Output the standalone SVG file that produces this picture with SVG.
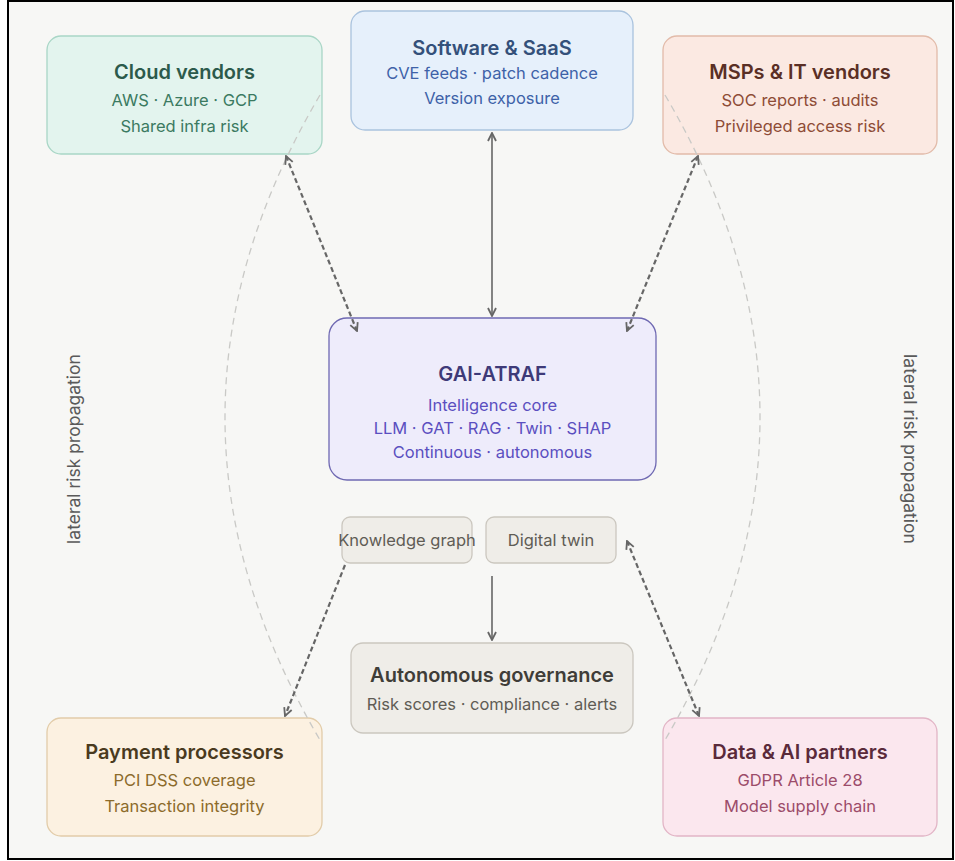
<svg xmlns="http://www.w3.org/2000/svg" width="955" height="861" viewBox="0 0 955 861">
<style>
text{font-family:Inter,"Open Sans","Liberation Sans",sans-serif;text-anchor:middle}
.t{font-size:20px;font-weight:600}
.s{font-size:16.5px}
.box{stroke-width:1.3}
.dk{fill:none;stroke:#666;stroke-width:2.2;stroke-dasharray:5 3}
.sol{fill:none;stroke:#666;stroke-width:1.6}
.lat{fill:none;stroke:#c9c9c6;stroke-width:1.3;stroke-dasharray:7 5}
.lbl{font-size:17.5px;fill:#5a5a5a}
</style>
<defs>
<marker id="ah" viewBox="0 0 10 10" refX="9" refY="5" markerWidth="10" markerHeight="10" markerUnits="userSpaceOnUse" orient="auto-start-reverse">
<path d="M1,1 L9,5 L1,9" fill="none" stroke="#666" stroke-width="1.8"/>
</marker>
</defs>
<rect x="0" y="0" width="955" height="861" fill="#ffffff"/>
<rect x="8" y="1" width="945" height="858" fill="#f7f7f5" stroke="#000" stroke-width="2"/>

<g id="cloud">
<rect class="box" x="47" y="36" width="275" height="118" rx="14" fill="#e3f4ee" stroke="#a9d6c6"/>
<text class="t" x="184.5" y="79" fill="#2c5a4b">Cloud vendors</text>
<text class="s" x="184.5" y="106" fill="#3b7a61">AWS · Azure · GCP</text>
<text class="s" x="184.5" y="132" fill="#3b7a61">Shared infra risk</text>
</g>
<g id="software">
<rect class="box" x="351" y="11" width="282" height="119" rx="14" fill="#e6f0fb" stroke="#aac3de"/>
<text class="t" x="492" y="55" fill="#34507a">Software &amp; SaaS</text>
<text class="s" x="492" y="79" fill="#3e62a8">CVE feeds · patch cadence</text>
<text class="s" x="492" y="104" fill="#3e62a8">Version exposure</text>
</g>
<g id="msps">
<rect class="box" x="663" y="36" width="274" height="118" rx="14" fill="#fbe9e2" stroke="#e2bba9"/>
<text class="t" x="800" y="79" fill="#5a2f25">MSPs &amp; IT vendors</text>
<text class="s" x="800" y="106" fill="#8e4c36">SOC reports · audits</text>
<text class="s" x="800" y="132" fill="#8e4c36">Privileged access risk</text>
</g>
<g id="core">
<rect class="box" x="329" y="318" width="327" height="162" rx="18" fill="#eeecfb" stroke="#6f69b2"/>
<text class="t" x="492.5" y="381" fill="#3e3a78">GAI-ATRAF</text>
<text class="s" x="492.5" y="411" fill="#5b4fc0">Intelligence core</text>
<text class="s" x="492.5" y="434" fill="#5b4fc0">LLM · GAT · RAG · Twin · SHAP</text>
<text class="s" x="492.5" y="458" fill="#5b4fc0">Continuous · autonomous</text>
</g>
<g id="kg">
<rect class="box" x="342" y="517" width="130" height="46" rx="8" fill="#efede8" stroke="#cbc7bf"/>
<text class="s" x="407" y="546" fill="#5f5c55">Knowledge graph</text>
</g>
<g id="twin">
<rect class="box" x="486" y="517" width="130" height="46" rx="8" fill="#efede8" stroke="#cbc7bf"/>
<text class="s" x="551" y="546" fill="#5f5c55">Digital twin</text>
</g>
<g id="governance">
<rect class="box" x="351" y="643" width="282" height="90" rx="12" fill="#efede8" stroke="#cbc7bf"/>
<text class="t" x="492" y="682" fill="#3f3d38">Autonomous governance</text>
<text class="s" x="492" y="710" fill="#5f5c55">Risk scores · compliance · alerts</text>
</g>
<g id="payment">
<rect class="box" x="47" y="718" width="275" height="118" rx="14" fill="#fcf1e1" stroke="#e2cca9"/>
<text class="t" x="184.5" y="759" fill="#4a3a1e">Payment processors</text>
<text class="s" x="184.5" y="786" fill="#8c6b2b">PCI DSS coverage</text>
<text class="s" x="184.5" y="812" fill="#8c6b2b">Transaction integrity</text>
</g>
<g id="data">
<rect class="box" x="663" y="718" width="274" height="118" rx="14" fill="#fbe7ee" stroke="#e2b5c6"/>
<text class="t" x="800" y="759" fill="#5a2a3a">Data &amp; AI partners</text>
<text class="s" x="800" y="786" fill="#9c4c6a">GDPR Article 28</text>
<text class="s" x="800" y="812" fill="#9c4c6a">Model supply chain</text>
</g>

<g id="connectors">
<path class="lat" d="M320 95 Q130 417 320 740"/>
<path class="lat" d="M665 95 Q855 417 665 740"/>
<line class="sol" x1="492" y1="133" x2="492" y2="316" marker-start="url(#ah)" marker-end="url(#ah)"/>
<line class="dk" x1="286" y1="156" x2="357" y2="331" marker-start="url(#ah)" marker-end="url(#ah)"/>
<line class="dk" x1="698" y1="156" x2="627" y2="331" marker-start="url(#ah)" marker-end="url(#ah)"/>
<line class="dk" x1="345" y1="565" x2="285" y2="716" marker-end="url(#ah)"/>
<line class="dk" x1="627" y1="541" x2="699" y2="716" marker-start="url(#ah)" marker-end="url(#ah)"/>
<line class="sol" x1="492" y1="576" x2="492" y2="640" marker-end="url(#ah)"/>
<text class="lbl" transform="translate(80 449) rotate(-90)">lateral risk propagation</text>
<text class="lbl" transform="translate(904 449) rotate(90)">lateral risk propagation</text>
</g>
</svg>
